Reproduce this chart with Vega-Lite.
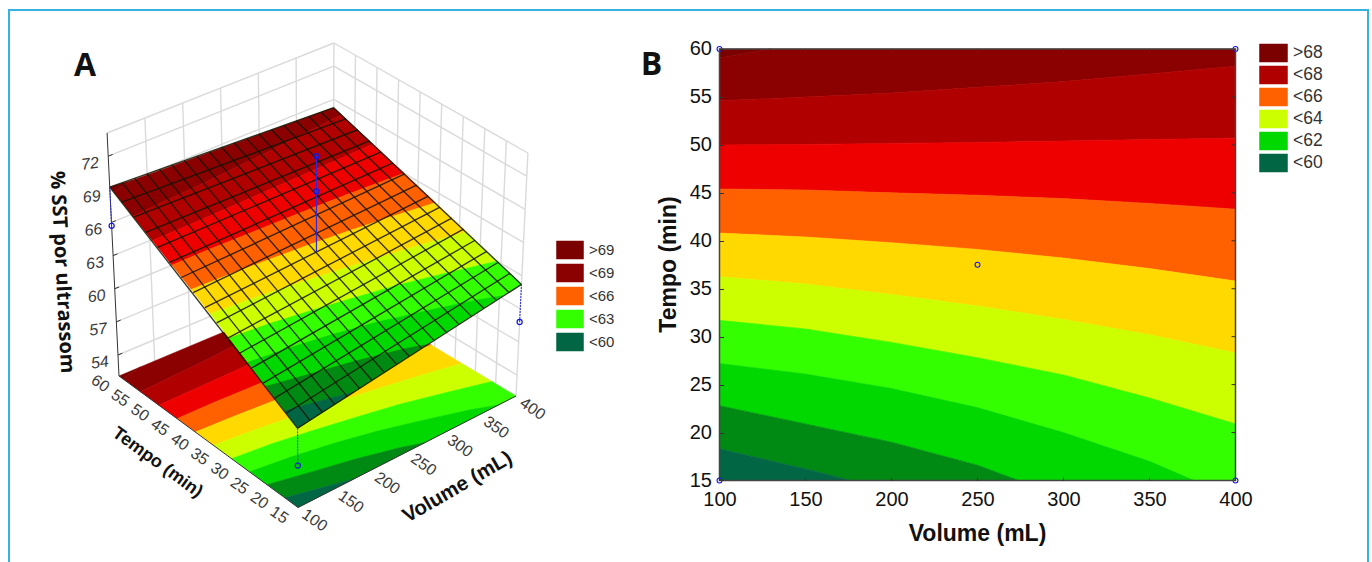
{"$schema":"https://vega.github.io/schema/vega-lite/v6.json","width":1372,"height":562,"padding":0,"autosize":{"type":"none"},"background":"white","config":{"view":{"stroke":null}},
"datasets":{
"bands":[
{"band":">69","ord":1,"volume":100,"tempo":59.05,"sst":69},{"band":">69","ord":2,"volume":130,"tempo":60,"sst":69},{"band":">69","ord":3,"volume":100,"tempo":60,"sst":69.2},
{"band":"<69","ord":1,"volume":100,"tempo":59.05,"sst":69},{"band":"<69","ord":2,"volume":130,"tempo":60,"sst":69},{"band":"<69","ord":3,"volume":400,"tempo":60,"sst":68.24},{"band":"<69","ord":4,"volume":400,"tempo":58.2,"sst":68},{"band":"<69","ord":5,"volume":350,"tempo":57.4,"sst":68},{"band":"<69","ord":6,"volume":300,"tempo":56.6,"sst":68},{"band":"<69","ord":7,"volume":250,"tempo":56,"sst":68},{"band":"<69","ord":8,"volume":200,"tempo":55.4,"sst":68},{"band":"<69","ord":9,"volume":150,"tempo":55,"sst":68},{"band":"<69","ord":10,"volume":100,"tempo":54.6,"sst":68},
{"band":"<68","ord":1,"volume":100,"tempo":54.6,"sst":68},{"band":"<68","ord":2,"volume":150,"tempo":55,"sst":68},{"band":"<68","ord":3,"volume":200,"tempo":55.4,"sst":68},{"band":"<68","ord":4,"volume":250,"tempo":56,"sst":68},{"band":"<68","ord":5,"volume":300,"tempo":56.6,"sst":68},{"band":"<68","ord":6,"volume":350,"tempo":57.4,"sst":68},{"band":"<68","ord":7,"volume":400,"tempo":58.2,"sst":68},{"band":"<68","ord":8,"volume":400,"tempo":50.7,"sst":67},{"band":"<68","ord":9,"volume":350,"tempo":50.55,"sst":67},{"band":"<68","ord":10,"volume":300,"tempo":50.4,"sst":67},{"band":"<68","ord":11,"volume":250,"tempo":50.25,"sst":67},{"band":"<68","ord":12,"volume":200,"tempo":50.15,"sst":67},{"band":"<68","ord":13,"volume":150,"tempo":50.05,"sst":67},{"band":"<68","ord":14,"volume":100,"tempo":50,"sst":67},
{"band":"<67","ord":1,"volume":100,"tempo":50,"sst":67},{"band":"<67","ord":2,"volume":150,"tempo":50.05,"sst":67},{"band":"<67","ord":3,"volume":200,"tempo":50.15,"sst":67},{"band":"<67","ord":4,"volume":250,"tempo":50.25,"sst":67},{"band":"<67","ord":5,"volume":300,"tempo":50.4,"sst":67},{"band":"<67","ord":6,"volume":350,"tempo":50.55,"sst":67},{"band":"<67","ord":7,"volume":400,"tempo":50.7,"sst":67},{"band":"<67","ord":8,"volume":400,"tempo":43.3,"sst":66},{"band":"<67","ord":9,"volume":350,"tempo":43.9,"sst":66},{"band":"<67","ord":10,"volume":300,"tempo":44.4,"sst":66},{"band":"<67","ord":11,"volume":250,"tempo":44.75,"sst":66},{"band":"<67","ord":12,"volume":200,"tempo":45,"sst":66},{"band":"<67","ord":13,"volume":150,"tempo":45.3,"sst":66},{"band":"<67","ord":14,"volume":100,"tempo":45.4,"sst":66},
{"band":"<66","ord":1,"volume":100,"tempo":45.4,"sst":66},{"band":"<66","ord":2,"volume":150,"tempo":45.3,"sst":66},{"band":"<66","ord":3,"volume":200,"tempo":45,"sst":66},{"band":"<66","ord":4,"volume":250,"tempo":44.75,"sst":66},{"band":"<66","ord":5,"volume":300,"tempo":44.4,"sst":66},{"band":"<66","ord":6,"volume":350,"tempo":43.9,"sst":66},{"band":"<66","ord":7,"volume":400,"tempo":43.3,"sst":66},{"band":"<66","ord":8,"volume":400,"tempo":35.8,"sst":65},{"band":"<66","ord":9,"volume":350,"tempo":37.1,"sst":65},{"band":"<66","ord":10,"volume":300,"tempo":38.2,"sst":65},{"band":"<66","ord":11,"volume":250,"tempo":39.1,"sst":65},{"band":"<66","ord":12,"volume":200,"tempo":39.8,"sst":65},{"band":"<66","ord":13,"volume":150,"tempo":40.4,"sst":65},{"band":"<66","ord":14,"volume":100,"tempo":40.8,"sst":65},
{"band":"<65","ord":1,"volume":100,"tempo":40.8,"sst":65},{"band":"<65","ord":2,"volume":150,"tempo":40.4,"sst":65},{"band":"<65","ord":3,"volume":200,"tempo":39.8,"sst":65},{"band":"<65","ord":4,"volume":250,"tempo":39.1,"sst":65},{"band":"<65","ord":5,"volume":300,"tempo":38.2,"sst":65},{"band":"<65","ord":6,"volume":350,"tempo":37.1,"sst":65},{"band":"<65","ord":7,"volume":400,"tempo":35.8,"sst":65},{"band":"<65","ord":8,"volume":400,"tempo":28.3,"sst":64},{"band":"<65","ord":9,"volume":350,"tempo":30.2,"sst":64},{"band":"<65","ord":10,"volume":300,"tempo":31.8,"sst":64},{"band":"<65","ord":11,"volume":250,"tempo":33.2,"sst":64},{"band":"<65","ord":12,"volume":200,"tempo":34.4,"sst":64},{"band":"<65","ord":13,"volume":150,"tempo":35.5,"sst":64},{"band":"<65","ord":14,"volume":100,"tempo":36.25,"sst":64},
{"band":"<64","ord":1,"volume":100,"tempo":36.25,"sst":64},{"band":"<64","ord":2,"volume":150,"tempo":35.5,"sst":64},{"band":"<64","ord":3,"volume":200,"tempo":34.4,"sst":64},{"band":"<64","ord":4,"volume":250,"tempo":33.2,"sst":64},{"band":"<64","ord":5,"volume":300,"tempo":31.8,"sst":64},{"band":"<64","ord":6,"volume":350,"tempo":30.2,"sst":64},{"band":"<64","ord":7,"volume":400,"tempo":28.3,"sst":64},{"band":"<64","ord":8,"volume":400,"tempo":20.9,"sst":63},{"band":"<64","ord":9,"volume":350,"tempo":23.6,"sst":63},{"band":"<64","ord":10,"volume":300,"tempo":26,"sst":63},{"band":"<64","ord":11,"volume":250,"tempo":27.8,"sst":63},{"band":"<64","ord":12,"volume":200,"tempo":29.4,"sst":63},{"band":"<64","ord":13,"volume":150,"tempo":30.8,"sst":63},{"band":"<64","ord":14,"volume":100,"tempo":31.7,"sst":63},
{"band":"<63","ord":1,"volume":100,"tempo":31.7,"sst":63},{"band":"<63","ord":2,"volume":150,"tempo":30.8,"sst":63},{"band":"<63","ord":3,"volume":200,"tempo":29.4,"sst":63},{"band":"<63","ord":4,"volume":250,"tempo":27.8,"sst":63},{"band":"<63","ord":5,"volume":300,"tempo":26,"sst":63},{"band":"<63","ord":6,"volume":350,"tempo":23.6,"sst":63},{"band":"<63","ord":7,"volume":400,"tempo":20.9,"sst":63},{"band":"<63","ord":8,"volume":400,"tempo":15,"sst":62.2},{"band":"<63","ord":9,"volume":376,"tempo":15,"sst":62},{"band":"<63","ord":10,"volume":350,"tempo":17,"sst":62},{"band":"<63","ord":11,"volume":300,"tempo":20,"sst":62},{"band":"<63","ord":12,"volume":250,"tempo":22.6,"sst":62},{"band":"<63","ord":13,"volume":200,"tempo":24.6,"sst":62},{"band":"<63","ord":14,"volume":150,"tempo":26.1,"sst":62},{"band":"<63","ord":15,"volume":100,"tempo":27.2,"sst":62},
{"band":"<62","ord":1,"volume":100,"tempo":27.2,"sst":62},{"band":"<62","ord":2,"volume":150,"tempo":26.1,"sst":62},{"band":"<62","ord":3,"volume":200,"tempo":24.6,"sst":62},{"band":"<62","ord":4,"volume":250,"tempo":22.6,"sst":62},{"band":"<62","ord":5,"volume":300,"tempo":20,"sst":62},{"band":"<62","ord":6,"volume":350,"tempo":17,"sst":62},{"band":"<62","ord":7,"volume":376,"tempo":15,"sst":62},{"band":"<62","ord":8,"volume":274,"tempo":15,"sst":61},{"band":"<62","ord":9,"volume":250,"tempo":16.6,"sst":61},{"band":"<62","ord":10,"volume":200,"tempo":19,"sst":61},{"band":"<62","ord":11,"volume":150,"tempo":20.9,"sst":61},{"band":"<62","ord":12,"volume":100,"tempo":22.8,"sst":61},
{"band":"<61","ord":1,"volume":100,"tempo":22.8,"sst":61},{"band":"<61","ord":2,"volume":150,"tempo":20.9,"sst":61},{"band":"<61","ord":3,"volume":200,"tempo":19,"sst":61},{"band":"<61","ord":4,"volume":250,"tempo":16.6,"sst":61},{"band":"<61","ord":5,"volume":274,"tempo":15,"sst":61},{"band":"<61","ord":6,"volume":176,"tempo":15,"sst":60},{"band":"<61","ord":7,"volume":155,"tempo":16,"sst":60},{"band":"<61","ord":8,"volume":126.5,"tempo":17.2,"sst":60},{"band":"<61","ord":9,"volume":100,"tempo":18.3,"sst":60},
{"band":"<60","ord":1,"volume":100,"tempo":18.3,"sst":60},{"band":"<60","ord":2,"volume":126.5,"tempo":17.2,"sst":60},{"band":"<60","ord":3,"volume":155,"tempo":16,"sst":60},{"band":"<60","ord":4,"volume":176,"tempo":15,"sst":60},{"band":"<60","ord":5,"volume":100,"tempo":15,"sst":59.27}
],
"scene":[
{"kind":"mesh","line":"t0","volume":100,"tempo":15,"sst":59.27},{"kind":"mesh","line":"t0","volume":400,"tempo":15,"sst":62.2},
{"kind":"mesh","line":"t1","volume":100,"tempo":17.81,"sst":59.89},{"kind":"mesh","line":"t1","volume":400,"tempo":17.81,"sst":62.58},
{"kind":"mesh","line":"t2","volume":100,"tempo":20.63,"sst":60.51},{"kind":"mesh","line":"t2","volume":400,"tempo":20.63,"sst":62.96},
{"kind":"mesh","line":"t3","volume":100,"tempo":23.44,"sst":61.13},{"kind":"mesh","line":"t3","volume":400,"tempo":23.44,"sst":63.33},
{"kind":"mesh","line":"t4","volume":100,"tempo":26.25,"sst":61.75},{"kind":"mesh","line":"t4","volume":400,"tempo":26.25,"sst":63.71},
{"kind":"mesh","line":"t5","volume":100,"tempo":29.06,"sst":62.37},{"kind":"mesh","line":"t5","volume":400,"tempo":29.06,"sst":64.09},
{"kind":"mesh","line":"t6","volume":100,"tempo":31.88,"sst":62.99},{"kind":"mesh","line":"t6","volume":400,"tempo":31.88,"sst":64.47},
{"kind":"mesh","line":"t7","volume":100,"tempo":34.69,"sst":63.61},{"kind":"mesh","line":"t7","volume":400,"tempo":34.69,"sst":64.84},
{"kind":"mesh","line":"t8","volume":100,"tempo":37.5,"sst":64.24},{"kind":"mesh","line":"t8","volume":400,"tempo":37.5,"sst":65.22},
{"kind":"mesh","line":"t9","volume":100,"tempo":40.31,"sst":64.86},{"kind":"mesh","line":"t9","volume":400,"tempo":40.31,"sst":65.6},
{"kind":"mesh","line":"t10","volume":100,"tempo":43.13,"sst":65.48},{"kind":"mesh","line":"t10","volume":400,"tempo":43.13,"sst":65.98},
{"kind":"mesh","line":"t11","volume":100,"tempo":45.94,"sst":66.1},{"kind":"mesh","line":"t11","volume":400,"tempo":45.94,"sst":66.35},
{"kind":"mesh","line":"t12","volume":100,"tempo":48.75,"sst":66.72},{"kind":"mesh","line":"t12","volume":400,"tempo":48.75,"sst":66.73},
{"kind":"mesh","line":"t13","volume":100,"tempo":51.56,"sst":67.34},{"kind":"mesh","line":"t13","volume":400,"tempo":51.56,"sst":67.11},
{"kind":"mesh","line":"t14","volume":100,"tempo":54.38,"sst":67.96},{"kind":"mesh","line":"t14","volume":400,"tempo":54.38,"sst":67.49},
{"kind":"mesh","line":"t15","volume":100,"tempo":57.19,"sst":68.58},{"kind":"mesh","line":"t15","volume":400,"tempo":57.19,"sst":67.86},
{"kind":"mesh","line":"t16","volume":100,"tempo":60,"sst":69.2},{"kind":"mesh","line":"t16","volume":400,"tempo":60,"sst":68.24},
{"kind":"mesh","line":"v0","volume":100,"tempo":15,"sst":59.27},{"kind":"mesh","line":"v0","volume":100,"tempo":60,"sst":69.2},
{"kind":"mesh","line":"v1","volume":116.67,"tempo":15,"sst":59.43},{"kind":"mesh","line":"v1","volume":116.67,"tempo":60,"sst":69.15},
{"kind":"mesh","line":"v2","volume":133.33,"tempo":15,"sst":59.6},{"kind":"mesh","line":"v2","volume":133.33,"tempo":60,"sst":69.09},
{"kind":"mesh","line":"v3","volume":150,"tempo":15,"sst":59.76},{"kind":"mesh","line":"v3","volume":150,"tempo":60,"sst":69.04},
{"kind":"mesh","line":"v4","volume":166.67,"tempo":15,"sst":59.92},{"kind":"mesh","line":"v4","volume":166.67,"tempo":60,"sst":68.99},
{"kind":"mesh","line":"v5","volume":183.33,"tempo":15,"sst":60.08},{"kind":"mesh","line":"v5","volume":183.33,"tempo":60,"sst":68.93},
{"kind":"mesh","line":"v6","volume":200,"tempo":15,"sst":60.25},{"kind":"mesh","line":"v6","volume":200,"tempo":60,"sst":68.88},
{"kind":"mesh","line":"v7","volume":216.67,"tempo":15,"sst":60.41},{"kind":"mesh","line":"v7","volume":216.67,"tempo":60,"sst":68.83},
{"kind":"mesh","line":"v8","volume":233.33,"tempo":15,"sst":60.57},{"kind":"mesh","line":"v8","volume":233.33,"tempo":60,"sst":68.77},
{"kind":"mesh","line":"v9","volume":250,"tempo":15,"sst":60.74},{"kind":"mesh","line":"v9","volume":250,"tempo":60,"sst":68.72},
{"kind":"mesh","line":"v10","volume":266.67,"tempo":15,"sst":60.9},{"kind":"mesh","line":"v10","volume":266.67,"tempo":60,"sst":68.67},
{"kind":"mesh","line":"v11","volume":283.33,"tempo":15,"sst":61.06},{"kind":"mesh","line":"v11","volume":283.33,"tempo":60,"sst":68.61},
{"kind":"mesh","line":"v12","volume":300,"tempo":15,"sst":61.22},{"kind":"mesh","line":"v12","volume":300,"tempo":60,"sst":68.56},
{"kind":"mesh","line":"v13","volume":316.67,"tempo":15,"sst":61.39},{"kind":"mesh","line":"v13","volume":316.67,"tempo":60,"sst":68.51},
{"kind":"mesh","line":"v14","volume":333.33,"tempo":15,"sst":61.55},{"kind":"mesh","line":"v14","volume":333.33,"tempo":60,"sst":68.45},
{"kind":"mesh","line":"v15","volume":350,"tempo":15,"sst":61.71},{"kind":"mesh","line":"v15","volume":350,"tempo":60,"sst":68.4},
{"kind":"mesh","line":"v16","volume":366.67,"tempo":15,"sst":61.88},{"kind":"mesh","line":"v16","volume":366.67,"tempo":60,"sst":68.35},
{"kind":"mesh","line":"v17","volume":383.33,"tempo":15,"sst":62.04},{"kind":"mesh","line":"v17","volume":383.33,"tempo":60,"sst":68.29},
{"kind":"mesh","line":"v18","volume":400,"tempo":15,"sst":62.2},{"kind":"mesh","line":"v18","volume":400,"tempo":60,"sst":68.24},
{"kind":"wall","line":"lv150","volume":150,"tempo":60,"sst":52.1},{"kind":"wall","line":"lv150","volume":150,"tempo":60,"sst":74.1},
{"kind":"wall","line":"lv200","volume":200,"tempo":60,"sst":52.1},{"kind":"wall","line":"lv200","volume":200,"tempo":60,"sst":74.1},
{"kind":"wall","line":"lv250","volume":250,"tempo":60,"sst":52.1},{"kind":"wall","line":"lv250","volume":250,"tempo":60,"sst":74.1},
{"kind":"wall","line":"lv300","volume":300,"tempo":60,"sst":52.1},{"kind":"wall","line":"lv300","volume":300,"tempo":60,"sst":74.1},
{"kind":"wall","line":"lv350","volume":350,"tempo":60,"sst":52.1},{"kind":"wall","line":"lv350","volume":350,"tempo":60,"sst":74.1},
{"kind":"wall","line":"lv400","volume":400,"tempo":60,"sst":52.1},{"kind":"wall","line":"lv400","volume":400,"tempo":60,"sst":74.1},
{"kind":"wall","line":"rt15","volume":400,"tempo":15,"sst":52.1},{"kind":"wall","line":"rt15","volume":400,"tempo":15,"sst":74.1},
{"kind":"wall","line":"rt20","volume":400,"tempo":20,"sst":52.1},{"kind":"wall","line":"rt20","volume":400,"tempo":20,"sst":74.1},
{"kind":"wall","line":"rt25","volume":400,"tempo":25,"sst":52.1},{"kind":"wall","line":"rt25","volume":400,"tempo":25,"sst":74.1},
{"kind":"wall","line":"rt30","volume":400,"tempo":30,"sst":52.1},{"kind":"wall","line":"rt30","volume":400,"tempo":30,"sst":74.1},
{"kind":"wall","line":"rt35","volume":400,"tempo":35,"sst":52.1},{"kind":"wall","line":"rt35","volume":400,"tempo":35,"sst":74.1},
{"kind":"wall","line":"rt40","volume":400,"tempo":40,"sst":52.1},{"kind":"wall","line":"rt40","volume":400,"tempo":40,"sst":74.1},
{"kind":"wall","line":"rt45","volume":400,"tempo":45,"sst":52.1},{"kind":"wall","line":"rt45","volume":400,"tempo":45,"sst":74.1},
{"kind":"wall","line":"rt50","volume":400,"tempo":50,"sst":52.1},{"kind":"wall","line":"rt50","volume":400,"tempo":50,"sst":74.1},
{"kind":"wall","line":"rt55","volume":400,"tempo":55,"sst":52.1},{"kind":"wall","line":"rt55","volume":400,"tempo":55,"sst":74.1},
{"kind":"wall","line":"l54","volume":100,"tempo":60,"sst":54},{"kind":"wall","line":"l54","volume":400,"tempo":60,"sst":54},
{"kind":"wall","line":"l57","volume":100,"tempo":60,"sst":57},{"kind":"wall","line":"l57","volume":400,"tempo":60,"sst":57},
{"kind":"wall","line":"l60","volume":100,"tempo":60,"sst":60},{"kind":"wall","line":"l60","volume":400,"tempo":60,"sst":60},
{"kind":"wall","line":"l63","volume":100,"tempo":60,"sst":63},{"kind":"wall","line":"l63","volume":400,"tempo":60,"sst":63},
{"kind":"wall","line":"l66","volume":100,"tempo":60,"sst":66},{"kind":"wall","line":"l66","volume":400,"tempo":60,"sst":66},
{"kind":"wall","line":"l69","volume":100,"tempo":60,"sst":69},{"kind":"wall","line":"l69","volume":400,"tempo":60,"sst":69},
{"kind":"wall","line":"l72","volume":100,"tempo":60,"sst":72},{"kind":"wall","line":"l72","volume":400,"tempo":60,"sst":72},
{"kind":"wall","line":"ltop","volume":100,"tempo":60,"sst":74.1},{"kind":"wall","line":"ltop","volume":400,"tempo":60,"sst":74.1},
{"kind":"wall","line":"r54","volume":400,"tempo":60,"sst":54},{"kind":"wall","line":"r54","volume":400,"tempo":15,"sst":54},
{"kind":"wall","line":"r57","volume":400,"tempo":60,"sst":57},{"kind":"wall","line":"r57","volume":400,"tempo":15,"sst":57},
{"kind":"wall","line":"r60","volume":400,"tempo":60,"sst":60},{"kind":"wall","line":"r60","volume":400,"tempo":15,"sst":60},
{"kind":"wall","line":"r63","volume":400,"tempo":60,"sst":63},{"kind":"wall","line":"r63","volume":400,"tempo":15,"sst":63},
{"kind":"wall","line":"r66","volume":400,"tempo":60,"sst":66},{"kind":"wall","line":"r66","volume":400,"tempo":15,"sst":66},
{"kind":"wall","line":"r69","volume":400,"tempo":60,"sst":69},{"kind":"wall","line":"r69","volume":400,"tempo":15,"sst":69},
{"kind":"wall","line":"r72","volume":400,"tempo":60,"sst":72},{"kind":"wall","line":"r72","volume":400,"tempo":15,"sst":72},
{"kind":"wall","line":"rtop","volume":400,"tempo":60,"sst":74.1},{"kind":"wall","line":"rtop","volume":400,"tempo":15,"sst":74.1},
{"kind":"edge","line":"z","volume":100,"tempo":60,"sst":52.1},{"kind":"edge","line":"z","volume":100,"tempo":60,"sst":74.1},
{"kind":"edge","line":"t","volume":100,"tempo":60,"sst":52.1},{"kind":"edge","line":"t","volume":100,"tempo":15,"sst":52.1},
{"kind":"edge","line":"v","volume":100,"tempo":15,"sst":52.1},{"kind":"edge","line":"v","volume":400,"tempo":15,"sst":52.1},
{"kind":"edge","line":"k54","volume":100,"tempo":60,"sst":54},{"kind":"edge","line":"k54","volume":106,"tempo":60,"sst":54},
{"kind":"edge","line":"k57","volume":100,"tempo":60,"sst":57},{"kind":"edge","line":"k57","volume":106,"tempo":60,"sst":57},
{"kind":"edge","line":"k60","volume":100,"tempo":60,"sst":60},{"kind":"edge","line":"k60","volume":106,"tempo":60,"sst":60},
{"kind":"edge","line":"k63","volume":100,"tempo":60,"sst":63},{"kind":"edge","line":"k63","volume":106,"tempo":60,"sst":63},
{"kind":"edge","line":"k66","volume":100,"tempo":60,"sst":66},{"kind":"edge","line":"k66","volume":106,"tempo":60,"sst":66},
{"kind":"edge","line":"k72","volume":100,"tempo":60,"sst":72},{"kind":"edge","line":"k72","volume":106,"tempo":60,"sst":72},
{"kind":"drop","line":"a","volume":100,"tempo":60,"sst":65.7},{"kind":"drop","line":"a","volume":100,"tempo":60,"sst":69.2},
{"kind":"drop","line":"b","volume":100,"tempo":15,"sst":55.9},{"kind":"drop","line":"b","volume":100,"tempo":15,"sst":59.27},
{"kind":"drop","line":"c","volume":400,"tempo":15,"sst":58.8},{"kind":"drop","line":"c","volume":400,"tempo":15,"sst":62.2},
{"kind":"dropc","line":"d","volume":250,"tempo":37.5,"sst":64.73},{"kind":"dropc","line":"d","volume":250,"tempo":37.5,"sst":73.4},
{"kind":"obs","volume":100,"tempo":60,"sst":65.7},{"kind":"obs","volume":100,"tempo":15,"sst":55.9},{"kind":"obs","volume":400,"tempo":15,"sst":58.8},{"kind":"obs","volume":250,"tempo":37.5,"sst":70.2},{"kind":"obs","volume":250,"tempo":37.5,"sst":73.4},
{"kind":"ztick","text":"72","volume":100,"tempo":60,"sst":72},{"kind":"ztick","text":"69","volume":100,"tempo":60,"sst":69},{"kind":"ztick","text":"66","volume":100,"tempo":60,"sst":66},{"kind":"ztick","text":"63","volume":100,"tempo":60,"sst":63},{"kind":"ztick","text":"60","volume":100,"tempo":60,"sst":60},{"kind":"ztick","text":"57","volume":100,"tempo":60,"sst":57},{"kind":"ztick","text":"54","volume":100,"tempo":60,"sst":54},
{"kind":"ttick","text":"60","volume":100,"tempo":60,"sst":52.1},{"kind":"ttick","text":"55","volume":100,"tempo":55,"sst":52.1},{"kind":"ttick","text":"50","volume":100,"tempo":50,"sst":52.1},{"kind":"ttick","text":"45","volume":100,"tempo":45,"sst":52.1},{"kind":"ttick","text":"40","volume":100,"tempo":40,"sst":52.1},{"kind":"ttick","text":"35","volume":100,"tempo":35,"sst":52.1},{"kind":"ttick","text":"30","volume":100,"tempo":30,"sst":52.1},{"kind":"ttick","text":"25","volume":100,"tempo":25,"sst":52.1},{"kind":"ttick","text":"20","volume":100,"tempo":20,"sst":52.1},{"kind":"ttick","text":"15","volume":100,"tempo":15,"sst":52.1},
{"kind":"vtick","text":"100","volume":100,"tempo":15,"sst":52.1},{"kind":"vtick","text":"150","volume":150,"tempo":15,"sst":52.1},{"kind":"vtick","text":"200","volume":200,"tempo":15,"sst":52.1},{"kind":"vtick","text":"250","volume":250,"tempo":15,"sst":52.1},{"kind":"vtick","text":"300","volume":300,"tempo":15,"sst":52.1},{"kind":"vtick","text":"350","volume":350,"tempo":15,"sst":52.1},{"kind":"vtick","text":"400","volume":400,"tempo":15,"sst":52.1},
{"kind":"ttitle","text":"Tempo (min)","volume":100,"tempo":37.5,"sst":52.1},{"kind":"vtitle","text":"Volume (mL)","volume":250,"tempo":15,"sst":52.1},{"kind":"ztitle","text":"% SST por ultrassom","volume":100,"tempo":60,"sst":63},{"kind":"letter","text":"A","volume":100,"tempo":60,"sst":74.1}
],
"designB":[{"volume":100,"tempo":60},{"volume":400,"tempo":60},{"volume":250,"tempo":37.5},{"volume":100,"tempo":15},{"volume":400,"tempo":15}],
"innerTicksB":[{"volume":150,"tempo":60,"v2":150,"t2":59.6},{"volume":200,"tempo":60,"v2":200,"t2":59.6},{"volume":250,"tempo":60,"v2":250,"t2":59.6},{"volume":300,"tempo":60,"v2":300,"t2":59.6},{"volume":350,"tempo":60,"v2":350,"t2":59.6},{"volume":400,"tempo":20,"v2":397.7,"t2":20},{"volume":400,"tempo":25,"v2":397.7,"t2":25},{"volume":400,"tempo":30,"v2":397.7,"t2":30},{"volume":400,"tempo":35,"v2":397.7,"t2":35},{"volume":400,"tempo":40,"v2":397.7,"t2":40},{"volume":400,"tempo":45,"v2":397.7,"t2":45},{"volume":400,"tempo":50,"v2":397.7,"t2":50},{"volume":400,"tempo":55,"v2":397.7,"t2":55}]
},
"layer":[
{"data":{"values":[{"frame":"border"}]},"mark":{"type":"rect","fillOpacity":0,"stroke":"#35b3e0","strokeWidth":2},"encoding":{"x":{"value":9},"x2":{"value":1368},"y":{"value":10},"y2":{"value":620}}},
{"encoding":{"x":{"field":"px","type":"quantitative","scale":{"domain":[0,1372],"nice":false,"zero":false},"axis":null},"y":{"field":"py","type":"quantitative","scale":{"domain":[562,0],"nice":false,"zero":false},"axis":null}},
"layer":[
{"data":{"name":"scene"},"transform":[{"filter":"datum.kind=='wall'"},
{"calculate":"(datum.volume-100)/300","as":"u"},{"calculate":"(datum.tempo-15)/45","as":"t"},{"calculate":"(datum.sst-52.1)/22","as":"z"},{"calculate":"298+218*datum.u-179*datum.t-4*datum.u*datum.t","as":"fx"},{"calculate":"507.5-111.5*datum.u-131.5*datum.t+21.5*datum.u*datum.t","as":"fy"},{"calculate":"datum.fx+(datum.fx-317.5)*0.06*datum.z","as":"px"},{"calculate":"datum.fy-243*datum.z","as":"py"}],
"mark":{"type":"line","stroke":"#dadada","strokeWidth":1.4},"encoding":{"detail":{"field":"line"}}},
{"data":{"name":"bands"},"transform":[
{"calculate":"(datum.volume-100)/300","as":"u"},{"calculate":"(datum.tempo-15)/45","as":"t"},{"calculate":"298+218*datum.u-179*datum.t-4*datum.u*datum.t","as":"px"},{"calculate":"507.5-111.5*datum.u-131.5*datum.t+21.5*datum.u*datum.t","as":"py"}],
"mark":{"type":"line","strokeWidth":0.6},"encoding":{"fill":{"field":"band","type":"nominal","scale":{"domain":[">69","<69","<68","<67","<66","<65","<64","<63","<62","<61","<60"],"range":["#7b0000","#8b0000","#b00000","#ee0000","#ff6000","#ffd900","#ccff00","#33ff00","#00d800","#008a14","#006644"]},"legend":{"values":[">69","<69","<66","<63","<60"],"orient":"none","legendX":559,"legendY":239,"title":null,"symbolType":"M-1.3,-0.85H1.3V0.85H-1.3Z","symbolSize":400,"rowPadding":-3.5,"labelOffset":8,"labelFontSize":15,"labelFont":"Liberation Sans","labelColor":"#333333","symbolStrokeColor":"#444444","symbolStrokeWidth":1.5,"symbolOpacity":1}},"stroke":{"field":"band","type":"nominal","scale":{"domain":[">69","<69","<68","<67","<66","<65","<64","<63","<62","<61","<60"],"range":["#7b0000","#8b0000","#b00000","#ee0000","#ff6000","#ffd900","#ccff00","#33ff00","#00d800","#008a14","#006644"]},"legend":null},"order":{"field":"ord","type":"quantitative"}}},
{"data":{"name":"bands"},"transform":[
{"calculate":"(datum.volume-100)/300","as":"u"},{"calculate":"(datum.tempo-15)/45","as":"t"},{"calculate":"(datum.sst-52.1)/22","as":"z"},{"calculate":"298+218*datum.u-179*datum.t-4*datum.u*datum.t","as":"fx"},{"calculate":"507.5-111.5*datum.u-131.5*datum.t+21.5*datum.u*datum.t","as":"fy"},{"calculate":"datum.fx+(datum.fx-317.5)*0.06*datum.z","as":"px"},{"calculate":"datum.fy-243*datum.z","as":"py"}],
"mark":{"type":"line","strokeWidth":0.6},"encoding":{"fill":{"field":"band","type":"nominal","legend":null},"stroke":{"field":"band","type":"nominal","legend":null},"order":{"field":"ord","type":"quantitative"}}},
{"data":{"name":"scene"},"transform":[{"filter":"datum.kind!='wall'"},
{"calculate":"(datum.volume-100)/300","as":"u"},{"calculate":"(datum.tempo-15)/45","as":"t"},{"calculate":"(datum.sst-52.1)/22","as":"z"},{"calculate":"298+218*datum.u-179*datum.t-4*datum.u*datum.t","as":"fx"},{"calculate":"507.5-111.5*datum.u-131.5*datum.t+21.5*datum.u*datum.t","as":"fy"},{"calculate":"datum.fx+(datum.fx-317.5)*0.06*datum.z","as":"px"},{"calculate":"datum.fy-243*datum.z","as":"py"}],
"layer":[
{"transform":[{"filter":"datum.kind=='mesh'"}],"mark":{"type":"line","stroke":"#141400","strokeWidth":1.35,"opacity":0.85},"encoding":{"detail":{"field":"line"}}},
{"transform":[{"filter":"datum.kind=='edge'"}],"mark":{"type":"line","stroke":"#333333","strokeWidth":1},"encoding":{"detail":{"field":"line"}}},
{"transform":[{"filter":"datum.kind=='drop'"}],"mark":{"type":"line","stroke":"#3030e0","strokeWidth":1,"strokeDash":[2,1]},"encoding":{"detail":{"field":"line"}}},
{"transform":[{"filter":"datum.kind=='dropc'"}],"mark":{"type":"line","stroke":"#2a2ae0","strokeWidth":1.2},"encoding":{"detail":{"field":"line"}}},
{"transform":[{"filter":"datum.kind=='obs'"}],"mark":{"type":"point","shape":"circle","filled":false,"stroke":"#1515e0","strokeWidth":1.2,"size":26,"opacity":1}},
{"transform":[{"filter":"datum.kind=='ztick'"}],"mark":{"type":"text","font":"Liberation Sans","fontStyle":"italic","fontSize":16,"color":"#3a3a3a","align":"center","baseline":"middle","angle":352,"dx":-19,"dy":5},"encoding":{"text":{"field":"text"}}},
{"transform":[{"filter":"datum.kind=='ttick'"}],"mark":{"type":"text","font":"Liberation Sans","fontSize":16,"color":"#3a3a3a","align":"center","baseline":"middle","angle":35,"dx":-11,"dy":17},"encoding":{"text":{"field":"text"}}},
{"transform":[{"filter":"datum.kind=='vtick'"}],"mark":{"type":"text","font":"Liberation Sans","fontSize":16,"color":"#3a3a3a","align":"center","baseline":"middle","angle":35,"dx":21,"dy":1},"encoding":{"text":{"field":"text"}}},
{"transform":[{"filter":"datum.kind=='ttitle'"}],"mark":{"type":"text","font":"Liberation Sans","fontWeight":"bold","fontSize":18,"color":"#111111","align":"center","baseline":"middle","angle":36,"dx":-29,"dy":47},"encoding":{"text":{"field":"text"}}},
{"transform":[{"filter":"datum.kind=='vtitle'"}],"mark":{"type":"text","font":"Liberation Sans","fontWeight":"bold","fontSize":20.5,"color":"#111111","align":"center","baseline":"middle","angle":330,"dx":26,"dy":56},"encoding":{"text":{"field":"text"}}},
{"transform":[{"filter":"datum.kind=='ztitle'"}],"mark":{"type":"text","font":"Open Sans","fontWeight":"bold","fontSize":20,"color":"#111111","align":"center","baseline":"middle","angle":87,"dx":14,"dy":52},"encoding":{"text":{"field":"text"}}},
{"transform":[{"filter":"datum.kind=='letter'"}],"mark":{"type":"text","font":"Open Sans","fontWeight":"bold","fontSize":32,"color":"#111111","align":"center","baseline":"middle","dx":-22,"dy":-67},"encoding":{"text":{"field":"text"}}}
]}
]},
{"encoding":{"x":{"field":"volume","type":"quantitative","scale":{"domain":[-318.3,479.36],"nice":false,"zero":false},"axis":{"values":[100,150,200,250,300,350,400],"orient":"bottom","offset":-81.5,"domain":false,"grid":false,"tickSize":-4,"tickColor":"#333333","labelFont":"Liberation Sans","labelFontSize":20,"labelColor":"#111111","labelPadding":13,"labelFlush":false,"labelOverlap":false,"title":"Volume (mL)","titleFont":"Liberation Sans","titleFontSize":23,"titleFontWeight":"bold","titleColor":"#111111","titleX":977,"titleY":53,"titleBaseline":"middle","zindex":1}},"y":{"field":"tempo","type":"quantitative","scale":{"domain":[6.5,65.11],"nice":false,"zero":false},"axis":{"values":[15,20,25,30,35,40,45,50,55,60],"orient":"left","offset":-719.5,"domain":false,"grid":false,"tickSize":-4,"tickColor":"#333333","labelFont":"Liberation Sans","labelFontSize":20,"labelColor":"#111111","labelPadding":12,"labelOverlap":false,"title":"Tempo (min)","titleFont":"Liberation Sans","titleFontSize":23,"titleFontWeight":"bold","titleColor":"#111111","titleX":-51,"titleY":264,"titleBaseline":"middle","zindex":1}}},
"layer":[
{"data":{"name":"bands"},"mark":{"type":"line","strokeWidth":0.6},"encoding":{"fill":{"field":"band","type":"nominal","scale":{"domain":[">69","<69","<68","<67","<66","<65","<64","<63","<62","<61","<60"],"range":["#7b0000","#8b0000","#b00000","#ee0000","#ff6000","#ffd900","#ccff00","#33ff00","#00d800","#008a14","#006644"]},"legend":{"values":[">69","<68","<66","<64","<62","<60"],"labelExpr":"datum.label=='>69'?'>68':datum.label","orient":"none","legendX":1263.5,"legendY":43,"title":null,"symbolType":"M-1.5,-0.95H1.5V0.95H-1.5Z","symbolSize":324,"rowPadding":-5.1,"labelOffset":9.5,"labelFontSize":17.5,"labelFont":"Liberation Sans","labelColor":"#333333","symbolStrokeColor":"#444444","symbolStrokeWidth":1.5,"symbolOpacity":1}},"stroke":{"field":"band","type":"nominal","scale":{"domain":[">69","<69","<68","<67","<66","<65","<64","<63","<62","<61","<60"],"range":["#7b0000","#8b0000","#b00000","#ee0000","#ff6000","#ffd900","#ccff00","#33ff00","#00d800","#008a14","#006644"]},"legend":null},"order":{"field":"ord","type":"quantitative"}}},
{"data":{"name":"designB"},"mark":{"type":"point","shape":"circle","filled":false,"stroke":"#1515e0","strokeWidth":1.1,"size":24,"opacity":1}},
{"data":{"values":[{"volume":100,"tempo":15,"v2":400,"t2":60}]},"mark":{"type":"rect","fillOpacity":0,"stroke":"#444444","strokeWidth":1.5},"encoding":{"x2":{"field":"v2"},"y2":{"field":"t2"}}},
{"data":{"name":"innerTicksB"},"mark":{"type":"rule","stroke":"#333333","strokeWidth":1},"encoding":{"x2":{"field":"v2"},"y2":{"field":"t2"}}},
{"data":{"values":[{"text":"B","volume":100,"tempo":60}]},"mark":{"type":"text","font":"Open Sans","fontWeight":"bold","fontSize":32,"color":"#111111","align":"center","baseline":"middle","dx":-68,"dy":16},"encoding":{"text":{"field":"text"}}}
]}
],
"resolve":{"scale":{"x":"independent","y":"independent","fill":"independent","stroke":"independent"},"axis":{"x":"independent","y":"independent"},"legend":{"fill":"independent","stroke":"independent"}}}
